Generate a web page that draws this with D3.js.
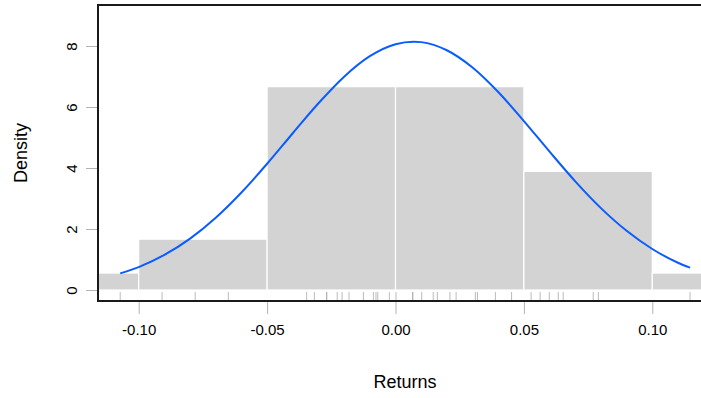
<!DOCTYPE html>
<html>
<head>
<meta charset="utf-8">
<script src="https://cdn.jsdelivr.net/npm/d3@7"></script>
<style>
	body{margin:0;background:#fff;}
	svg{display:block;font-family:"Liberation Sans",Arial,Helvetica,sans-serif;}
	.tick line{stroke:#b3b3b3;}
	.tick text{fill:#000;font-size:15px;}
</style>
</head>
<body>
<div id="plot"></div>
<script>
//Histogram bins (breaks and density)
var BREAKS = [-0.15,-0.10,-0.05,0.00,0.05,0.10,0.15];
var DENSITY = [0.556,1.667,6.667,6.667,3.889,0.556];

//Returns shown as the rug
var RETURNS = [-0.1072,-0.0909,-0.0780,-0.0651,
	-0.0346,-0.0316,-0.0268,-0.0268,-0.0227,-0.0208,-0.0181,-0.0125,-0.0086,-0.0076,-0.0069,-0.0024,
	0.0002,0.0067,0.0067,0.0102,0.0147,0.0163,0.0212,0.0236,0.0311,0.0319,0.0389,0.0452,
	0.0528,0.0563,0.0599,0.0634,0.0653,0.0770,0.0790,
	0.1147];

//Fitted normal curve
var CURVE_X = [-0.1072,-0.10,-0.09,-0.08,-0.07,-0.06,-0.05,-0.04,-0.03,-0.02,-0.01,0.00,0.007,0.01,0.02,0.03,0.04,0.05,0.06,0.07,0.08,0.09,0.10,0.11,0.1147];
var CURVE_Y = [0.544,0.750,1.148,1.684,2.369,3.197,4.139,5.140,6.122,6.995,7.666,8.059,8.142,8.127,7.860,7.293,6.490,5.540,4.536,3.563,2.684,1.940,1.344,0.894,0.731];

var X_TICKS = [-0.10,-0.05,0.00,0.05,0.10],
	Y_TICKS = [0,2,4,6,8];

var W = 701, H = 398;
var box = {l:98,t:5,r:712,b:301};

var svg = d3.select('#plot').append('svg')
	.attr('width',W)
	.attr('height',H);

var scaleX = d3.scaleLinear().domain([-0.10,0.10]).range([138.7,652.3]),
	scaleY = d3.scaleLinear().domain([0,8]).range([290,46]);

svg.append('clipPath').attr('id','clip')
	.append('rect')
	.attr('x',box.l).attr('y',box.t)
	.attr('width',box.r-box.l).attr('height',box.b-box.t);

var canvas = svg.append('g').attr('clip-path','url(#clip)');

//bars
var bins = DENSITY.map(function(d,i){return {x0:BREAKS[i],x1:BREAKS[i+1],density:d}});
canvas.selectAll('.bin')
	.data(bins)
	.enter()
	.append('rect').attr('class','bin')
	.attr('x',function(d){return scaleX(d.x0)})
	.attr('width',function(d){return scaleX(d.x1)-scaleX(d.x0)})
	.attr('y',function(d){return scaleY(d.density)})
	.attr('height',function(d){return scaleY(0)-scaleY(d.density)})
	.style('fill','#d3d3d3')
	.style('stroke','#fff')
	.style('stroke-width',1.2);

//rug
canvas.selectAll('.rug')
	.data(RETURNS)
	.enter()
	.append('line').attr('class','rug')
	.attr('x1',function(d){return scaleX(d)})
	.attr('x2',function(d){return scaleX(d)})
	.attr('y1',292)
	.attr('y2',box.b)
	.style('stroke','#a9a9a9')
	.style('stroke-width',0.8);

//normal curve
var line = d3.line()
	.x(function(d){return scaleX(d[0])})
	.y(function(d){return scaleY(d[1])})
	.curve(d3.curveMonotoneX);
canvas.append('path')
	.datum(CURVE_X.map(function(x,i){return [x,CURVE_Y[i]]}))
	.attr('d',line)
	.style('fill','none')
	.style('stroke','#0a5cff')
	.style('stroke-width',2);

//axes (plain hyphen for the minus sign, as R prints it)
var xAxis = d3.axisBottom(scaleX)
	.tickValues(X_TICKS)
	.tickSize(12)
	.tickPadding(10)
	.tickFormat(function(d){return d.toFixed(2)});
svg.append('g').attr('class','axis axis-x')
	.attr('transform','translate(0,'+(box.b+1)+')')
	.call(xAxis)
	.call(function(g){g.select('.domain').remove()});

var yAxis = d3.axisLeft(scaleY)
	.tickValues(Y_TICKS)
	.tickSize(11)
	.tickFormat(function(d){return String(d)});
var gy = svg.append('g').attr('class','axis axis-y')
	.attr('transform','translate('+(box.l-1)+',0)')
	.call(yAxis)
	.call(function(g){g.select('.domain').remove()});
gy.selectAll('.tick text')
	.attr('x',null).attr('dy',null)
	.attr('transform','translate(-26,0) rotate(-90)')
	.attr('text-anchor','middle')
	.attr('dominant-baseline','central');

//box
svg.append('rect')
	.attr('x',box.l).attr('y',box.t)
	.attr('width',box.r-box.l).attr('height',box.b-box.t)
	.style('fill','none')
	.style('stroke','#1a1a1a')
	.style('stroke-width',2);

//labels
svg.append('text')
	.attr('x',405).attr('y',388)
	.attr('text-anchor','middle')
	.style('font-size','18px')
	.text('Returns');
svg.append('text')
	.attr('transform','translate(27,153) rotate(-90)')
	.attr('text-anchor','middle')
	.style('font-size','18px')
	.text('Density');
</script>
</body>
</html>
